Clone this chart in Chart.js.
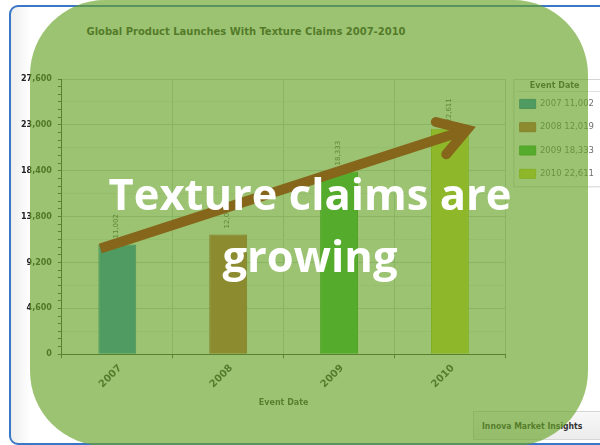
<!DOCTYPE html>
<html>
<head>
<meta charset="utf-8">
<script src="https://cdn.jsdelivr.net/npm/chart.js@4.4.1/dist/chart.umd.min.js"></script>
<style>
  html, body { margin: 0; padding: 0; width: 600px; height: 445px; overflow: hidden; background: #fff; }
  #frame {
    position: absolute; left: 9px; top: 5px; width: 650px; height: 436px;
    border: 2px solid #3b77c7; border-radius: 9px;
    background: linear-gradient(90deg, #eeeeee 0, #ffffff 20px);
  }
  #heading {
    position: absolute; left: 0; top: 25px; width: 492px; text-align: center;
    font: bold 11.1px 'DejaVu Sans Condensed', 'DejaVu Sans', sans-serif; color: #2b2b2b;
    white-space: nowrap;
  }
  #credit {
    position: absolute; left: 473px; top: 411px; width: 150px; height: 29px;
    border: 1px solid #d6d6d6; background: linear-gradient(#f8f8f8, #ececec);
    font: bold 8.6px 'DejaVu Sans Condensed', 'DejaVu Sans', sans-serif; color: #333;
    line-height: 29px; padding-left: 8px; box-sizing: border-box;
  }
  #plot { position: absolute; left: 0; top: 0; }
  #message {
    position: absolute; left: 0; top: 163px; width: 620px; text-align: center;
    font: bold 43.5px 'Open Sans', sans-serif; line-height: 62px; color: #ffffff;
    white-space: nowrap;
  }
</style>
</head>
<body>
<div id="frame"></div>
<div id="heading">Global Product Launches With Texture Claims 2007-2010</div>
<div id="credit">Innova Market Insights</div>
<canvas id="plot" width="600" height="445"></canvas>
<div id="message">Texture claims are<br>growing</div>
<script>
// Product launches carrying texture claims, by year
const years = ['2007', '2008', '2009', '2010'];
const launches = [11002, 12019, 18333, 22611];
const yTickValues = [0, 4600, 9200, 13800, 18400, 23000, 27600];

const barFill = ['rgb(31,138,208)', 'rgb(207,91,59)', 'rgb(48,185,50)', 'rgb(213,223,44)'];
const barEdge = ['rgb(20,115,180)', 'rgb(180,72,45)', 'rgb(35,160,38)', 'rgb(185,195,30)'];

const fmt = v => v.toLocaleString('en-US');
const FONT = 'DejaVu Sans';

// minor steps: six per labelled interval
const minorTicks = [];
for (let k = 0; k < yTickValues.length - 1; k++) {
  const a = yTickValues[k], b = yTickValues[k + 1];
  for (let s = 0; s < 6; s++) minorTicks.push({ value: a + ((b - a) * s) / 6, sub: s });
}
minorTicks.push({ value: yTickValues[yTickValues.length - 1], sub: 0 });

// value labels standing vertically above each bar
const valueLabels = {
  id: 'valueLabels',
  afterDatasetsDraw(chart) {
    const ctx = chart.ctx;
    const meta = chart.getDatasetMeta(0);
    ctx.save();
    ctx.font = '7px "' + FONT + '"';
    ctx.fillStyle = '#4a4a4a';
    ctx.textAlign = 'left';
    ctx.textBaseline = 'middle';
    meta.data.forEach((bar, i) => {
      ctx.save();
      ctx.translate(bar.x - 1, bar.y - 6);
      ctx.rotate(-Math.PI / 2);
      ctx.fillText(fmt(launches[i]), 0, 0);
      ctx.restore();
    });
    ctx.restore();
  }
};

// frame around the legend
const legendFrame = {
  id: 'legendFrame',
  beforeDraw(chart) {
    const lg = chart.legend;
    if (!lg || !lg.legendHitBoxes.length) return;
    const ctx = chart.ctx;
    const last = lg.legendHitBoxes[lg.legendHitBoxes.length - 1];
    const x = lg.left + 8, y = lg.top;
    const h = last.top + last.height + 8 - y;
    ctx.save();
    ctx.fillStyle = '#ffffff';
    ctx.fillRect(x, y, 200, h);
    ctx.strokeStyle = '#d4d4d4';
    ctx.lineWidth = 1;
    ctx.strokeRect(x + 0.5, y + 0.5, 200, h);
    ctx.strokeStyle = '#e2e2e2';
    ctx.beginPath();
    ctx.moveTo(x + 4, y + 12.5);
    ctx.lineTo(x + 200, y + 12.5);
    ctx.stroke();
    ctx.restore();
  }
};

// translucent callout panel with a trend arrow over the bars
const callout = {
  id: 'callout',
  afterDraw(chart) {
    const ctx = chart.ctx;
    ctx.save();
    ctx.fillStyle = 'rgba(104,164,41,0.66)';
    ctx.beginPath();
    ctx.roundRect(30, 0, 558, 446, 75);
    ctx.fill();

    const bars = chart.getDatasetMeta(0).data;
    const first = bars[0], last = bars[bars.length - 1];
    const x0 = first.x - first.width / 2 + 2, y0 = first.y + 4;
    const x1 = last.x + last.width / 2 - 2, y1 = last.y + 1;
    const ang = Math.atan2(y1 - y0, x1 - x0);
    ctx.strokeStyle = '#85661a';
    ctx.lineWidth = 10;
    ctx.lineCap = 'butt';
    ctx.beginPath();
    ctx.moveTo(x0, y0);
    ctx.lineTo(x1, y1);
    ctx.stroke();
    const spread = 32 * Math.PI / 180, len = 32;
    ctx.lineCap = 'round';
    ctx.lineJoin = 'miter';
    ctx.miterLimit = 10;
    ctx.beginPath();
    ctx.moveTo(x1 - len * Math.cos(ang - spread), y1 - len * Math.sin(ang - spread));
    ctx.lineTo(x1, y1);
    ctx.lineTo(x1 - len * Math.cos(ang + spread), y1 - len * Math.sin(ang + spread));
    ctx.stroke();
    ctx.restore();
  }
};

new Chart(document.getElementById('plot'), {
  type: 'bar',
  data: {
    labels: years,
    datasets: [{
      label: 'Event Date',
      data: launches,
      backgroundColor: barFill,
      borderColor: barEdge,
      borderWidth: 1,
      categoryPercentage: 1,
      barPercentage: 0.342
    }]
  },
  options: {
    responsive: false,
    animation: false,
    events: [],
    layout: { padding: { left: 15, top: 79, right: -4, bottom: 37 } },
    plugins: {
      tooltip: { enabled: false },
      title: { display: false },
      legend: {
        position: 'right',
        align: 'start',
        fullSize: false,
        title: {
          display: true,
          text: 'Event Date',
          color: '#3c3c3c',
          font: { family: FONT, size: 8, weight: 'bold' },
          padding: { top: 2.5, bottom: -6 }
        },
        labels: {
          boxWidth: 16,
          boxHeight: 9,
          padding: 14.3,
          color: '#6e6e6e',
          font: { family: FONT, size: 8.5 },
          generateLabels: () => years.map((y, i) => ({
            text: y + ' ' + fmt(launches[i]),
            fillStyle: barFill[i],
            strokeStyle: barEdge[i],
            lineWidth: 1,
            hidden: false,
            index: i,
            fontColor: '#6e6e6e'
          }))
        }
      }
    },
    scales: {
      x: {
        offset: true,
        grid: { offset: true, color: '#c3d2d6', tickLength: 4, tickColor: '#4a4a4a' },
        border: { color: '#3f3f3f', width: 1 },
        ticks: {
          minRotation: 45, maxRotation: 45, padding: 4, labelOffset: 3,
          color: '#303038',
          font: { family: FONT, size: 10, weight: 'bold' }
        },
        title: {
          display: true,
          text: 'Event Date',
          color: '#3a3a3a',
          font: { family: FONT, size: 8, weight: 'bold' },
          padding: { top: 4, bottom: 0 }
        }
      },
      y: {
        min: 0,
        max: yTickValues[yTickValues.length - 1],
        afterBuildTicks: scale => { scale.ticks = minorTicks.map(t => ({ value: t.value })); },
        grid: {
          tickLength: 4,
          tickColor: '#4a4a4a',
          color: ctx => {
            const t = minorTicks[ctx.index];
            if (!t) return 'rgba(0,0,0,0)';
            if (t.sub === 0) return '#c3d2d6';
            if (t.sub === 3) return '#e6ecec';
            return 'rgba(0,0,0,0)';
          }
        },
        border: { color: '#3f3f3f', width: 1 },
        ticks: {
          autoSkip: false,
          padding: 6,
          color: '#222222',
          font: { family: FONT, size: 8, weight: 'bold' },
          callback: (v, i) => (minorTicks[i] && minorTicks[i].sub === 0) ? fmt(v) : ''
        }
      }
    }
  },
  plugins: [legendFrame, valueLabels, callout]
});
</script>
</body>
</html>
